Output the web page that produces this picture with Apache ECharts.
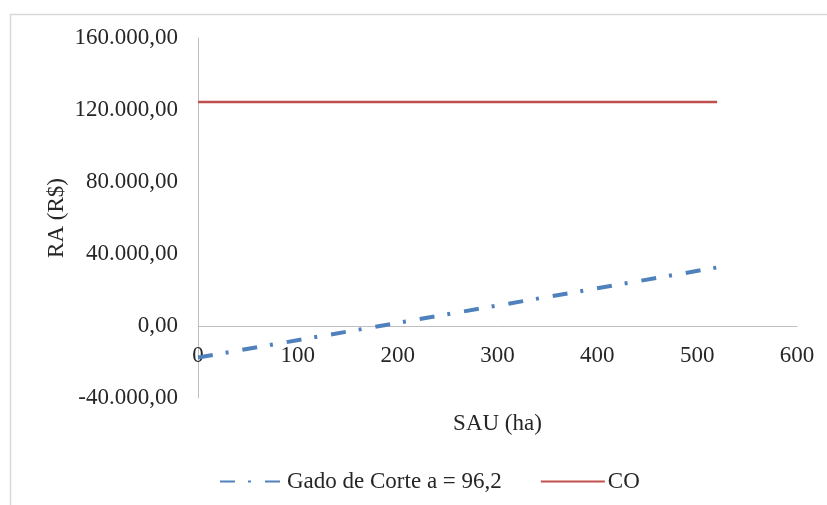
<!DOCTYPE html>
<html>
<head>
<meta charset="utf-8">
<script src="https://cdn.jsdelivr.net/npm/echarts@6/dist/echarts.min.js"></script>
<style>
  html, body { margin: 0; padding: 0; background: #fff; }
  #chart { width: 827px; height: 505px; }
</style>
</head>
<body>
<div id="chart"></div>
<script>
// SAU (ha) values at the ends of each line
const gadoX = [0, 520];
const gadoY = [-17500, 32524];
const coX = [0, 520];
const coY = [124500, 124500];

const seriesNames = ['Gado de Corte a = 96,2', 'CO'];
const xAxisName = 'SAU (ha)';
const yAxisName = 'RA (R$)';

// Brazilian number format: 160.000,00
function fmtBR(v) {
  const neg = v < 0;
  const s = Math.abs(Math.round(v)).toString().replace(/\B(?=(\d{3})+(?!\d))/g, '.');
  return (neg ? '-' : '') + s + ',00';
}

const font = 'Liberation Serif';
const textColor = '#262626';
const axisGray = '#bfbfbf';

// plot box
const gridTop = 38, gridBottom = 107, chartH = 505;
const yMin = -40000, yMax = 160000;
// the x axis (with its labels) sits on the y = 0 line
const plotH = chartH - gridTop - gridBottom;
const zeroShift = plotH * (0 - yMin) / (yMax - yMin);

const chart = echarts.init(document.getElementById('chart'), null, { renderer: 'canvas' });
chart.setOption({
  backgroundColor: '#fff',
  animation: false,
  textStyle: { fontFamily: font },
  graphic: [{
    type: 'rect',
    left: 8, top: 12,
    shape: { width: 840, height: 520 },
    style: { fill: 'none', stroke: '#d9d9d9', lineWidth: 1.5 },
    silent: true
  }],
  grid: { left: 198, top: gridTop, right: 30, bottom: gridBottom, containLabel: false },
  legend: {
    bottom: 7,
    left: 214,
    itemWidth: 64,
    itemHeight: 10,
    itemGap: 38,
    itemStyle: { opacity: 0 },
    textStyle: { fontFamily: font, fontSize: 23, color: textColor, padding: [0, 0, 0, -2] },
    data: seriesNames
  },
  xAxis: {
    type: 'value',
    min: 0, max: 600, interval: 100,
    offset: -zeroShift,
    name: xAxisName,
    nameLocation: 'middle',
    nameGap: 86,
    nameMoveOverlap: false,
    nameTextStyle: { fontFamily: font, fontSize: 23, color: textColor },
    axisLine: { show: true, onZero: false, lineStyle: { color: axisGray, width: 1 } },
    axisTick: { show: false },
    axisLabel: { fontFamily: font, fontSize: 23, color: textColor, margin: 18 },
    splitLine: { show: false }
  },
  yAxis: {
    type: 'value',
    min: yMin, max: yMax, interval: 40000,
    name: yAxisName,
    nameLocation: 'middle',
    nameGap: 130,
    nameMoveOverlap: false,
    nameTextStyle: { fontFamily: font, fontSize: 23, color: textColor },
    axisLine: { show: true, lineStyle: { color: axisGray, width: 1 } },
    axisTick: { show: false },
    axisLabel: { fontFamily: font, fontSize: 23, color: textColor, margin: 20, formatter: fmtBR },
    splitLine: { show: false }
  },
  series: [
    {
      name: seriesNames[0],
      type: 'line',
      data: gadoX.map((x, i) => [x, gadoY[i]]),
      showSymbol: false,
      symbol: 'none',
      lineStyle: { color: '#4f81bd', width: 4, type: [15, 13, 3, 14], cap: 'butt' },
      itemStyle: { color: '#4f81bd' },
      z: 3
    },
    {
      name: seriesNames[1],
      type: 'line',
      data: coX.map((x, i) => [x, coY[i]]),
      showSymbol: false,
      symbol: 'none',
      lineStyle: { color: '#c0504d', width: 2.5 },
      itemStyle: { color: '#c0504d' },
      z: 2
    }
  ]
});
</script>
</body>
</html>
